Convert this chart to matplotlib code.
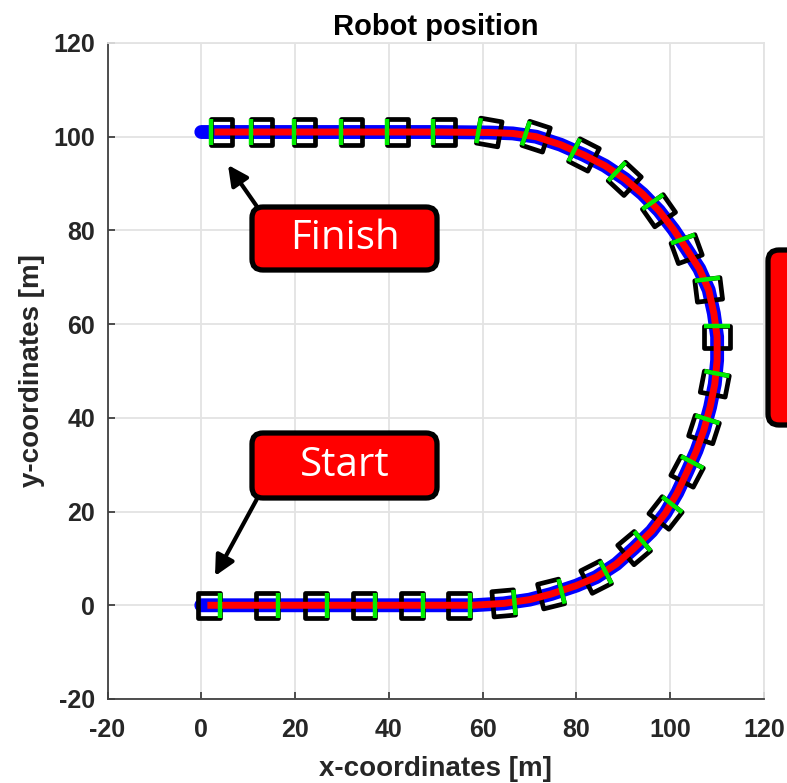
import numpy as np
import matplotlib.pyplot as plt
from matplotlib.patches import Polygon, FancyBboxPatch

# path of the robot (blue)
path_x = [0, 10, 20, 30, 40, 50, 58, 64.5, 70, 74.6, 80, 84.2, 88.5, 92.3, 96, 99, 101.5,
          103.6, 105.6, 107.2, 108.5, 109.5, 110, 110, 109.3, 108.2, 106.2, 103.5, 100.7,
          97.6, 94.1, 90.3, 86.1, 81.6, 76.6, 71.4, 66.4, 61.4, 50, 40, 30, 20, 10, 0]
path_y = [0, 0, 0, 0, 0, 0, 0, 0.4, 1.2, 2.4, 4.2, 6, 8.8, 12.2, 15.8, 19.7, 24,
          28.5, 33, 37.5, 42.3, 47.2, 52.3, 57.3, 62.3, 67.3, 71.8, 76, 80.2,
          84.2, 87.8, 91, 93.8, 96.1, 98.3, 100, 100.7, 100.9, 101, 101, 101, 101, 101, 101]
# estimated path (red) starts / ends a little further in
red_start_x = 1.3
red_end_x = 2.8

# robot poses (centre x, centre y, heading in degrees)
robot_x = [1.7, 14, 24.5, 34.7, 44.9, 54.9, 64.5, 74.6, 84.2, 92.3, 99.0, 103.6, 107.2, 109.5,
           110.0, 108.2, 103.5, 97.6, 90.3, 81.6, 71.4, 61.4, 51.8, 41.8, 32.0, 22.0, 12.8, 4.3]
robot_y = [0, 0, 0, 0, 0, 0, 0.4, 2.4, 6.0, 12.2, 19.7, 28.5, 37.5, 47.2,
           57.3, 67.3, 76.0, 84.2, 91.0, 96.1, 100.0, 100.9, 101, 101, 101, 101, 101, 101]
robot_heading = [0, 0, 0, 0, 0, 0, 5, 14, 27, 40, 52, 62, 72, 79,
                 90, 97, 110, 125, 137, 153, 162, 170, 180, 180, 180, 180, 180, 180]
robot_len = 4.6
robot_wid = 5.4

ticks = [-20, 0, 20, 40, 60, 80, 100, 120]

plt.rcParams['font.family'] = ['Liberation Sans', 'DejaVu Sans']
plt.rcParams['axes.unicode_minus'] = False

fig = plt.figure(figsize=(7.87, 7.83), dpi=100)
ax = fig.add_axes([0.1366, 0.1073, 0.8342, 0.8378])

ax.plot(path_x, path_y, color='#0000ff', lw=10, solid_capstyle='round', zorder=3)

red_x = [red_start_x] + path_x[1:-1] + [red_end_x]
ax.plot(red_x, path_y, color='#ff0000', lw=5, solid_capstyle='butt', zorder=5)

# robot boxes with green front edge
for cx, cy, h in zip(robot_x, robot_y, robot_heading):
    t = np.deg2rad(h)
    fx, fy = np.cos(t), np.sin(t)
    sx, sy = -np.sin(t), np.cos(t)
    hl, hw = robot_len / 2, robot_wid / 2
    corners = [(cx + fx*hl + sx*hw, cy + fy*hl + sy*hw),
               (cx - fx*hl + sx*hw, cy - fy*hl + sy*hw),
               (cx - fx*hl - sx*hw, cy - fy*hl - sy*hw),
               (cx + fx*hl - sx*hw, cy + fy*hl - sy*hw)]
    ax.add_patch(Polygon(corners, closed=True, fill=False, edgecolor='black',
                         lw=3.4, joinstyle='round', zorder=4))
    ax.plot([corners[0][0], corners[3][0]], [corners[0][1], corners[3][1]],
            color='#00ee00', lw=3.2, solid_capstyle='butt', zorder=6)

ax.set_xlim(-20, 120)
ax.set_ylim(-20, 120)
ax.set_xticks(ticks)
ax.set_yticks(ticks)
ax.grid(True, color='#e3e3e3', lw=1.3)
ax.set_axisbelow(True)
for s in ['top', 'right']:
    ax.spines[s].set_color('#e3e3e3')
    ax.spines[s].set_linewidth(1.3)
for s in ['left', 'bottom']:
    ax.spines[s].set_color('#404040')
    ax.spines[s].set_linewidth(1.3)
ax.tick_params(direction='in', length=5, width=1.3, color='#404040',
               labelsize=18, labelcolor='#262626', top=False, right=False)
ax.tick_params(axis='x', pad=14)
ax.tick_params(axis='y', pad=9)
for lab in ax.get_xticklabels() + ax.get_yticklabels():
    lab.set_fontweight('bold')

ax.set_title('Robot position', fontsize=21, fontweight='bold', pad=6)
ax.set_xlabel('x-coordinates [m]', fontsize=20, fontweight='bold', color='#262626', labelpad=10)
ax.set_ylabel('y-coordinates [m]', fontsize=20, fontweight='bold', color='#262626', labelpad=6)

# callout boxes
def callout(x0, y0, x1, y1, text=None):
    W, H = fig.get_size_inches() * fig.dpi
    box = FancyBboxPatch((x0 / W, 1 - y1 / H), (x1 - x0) / W, (y1 - y0) / H,
                         boxstyle='round,pad=0,rounding_size=0.014',
                         transform=fig.transFigure, facecolor='#ff0000',
                         edgecolor='black', lw=3.8, zorder=10, clip_on=False)
    fig.patches.append(box)
    if text:
        fig.text((x0 + x1) / 2 / W, 1 - (y0 + y1) / 2 / H, text, color='white',
                 fontsize=29, family=['Open Sans', 'DejaVu Sans'],
                 ha='center', va='center', zorder=11)

def arrow(tail, tip):
    W, H = fig.get_size_inches() * fig.dpi
    ax.annotate('', xy=(tip[0] / W, 1 - tip[1] / H), xycoords='figure fraction',
                xytext=(tail[0] / W, 1 - tail[1] / H), textcoords='figure fraction',
                arrowprops=dict(arrowstyle='-|>', lw=3, color='black',
                                mutation_scale=30, shrinkA=0, shrinkB=0),
                annotation_clip=False, zorder=9)

arrow((258, 208), (228, 165))
arrow((258, 497), (215, 576))
callout(252, 207, 437, 270, 'Finish')
callout(252, 433, 437, 498, 'Start')
callout(768, 250, 900, 425)

fig.savefig('out.png', dpi=100)
